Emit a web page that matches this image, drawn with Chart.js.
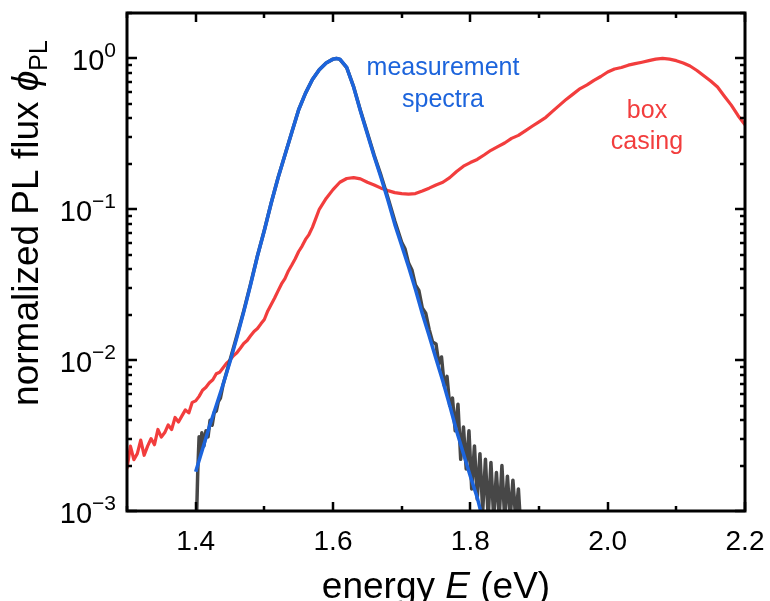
<!DOCTYPE html>
<html>
<head>
<meta charset="utf-8">
<script src="https://cdn.jsdelivr.net/npm/chart.js@4.4.1/dist/chart.umd.min.js"></script>
<style>
  body { margin: 0; background: #fff; }
  canvas { display: block; }
</style>
</head>
<body>
<canvas id="plChart" width="770" height="601"></canvas>
<script>
// fitted emission spectrum (blue)
const energyFit = [1.40, 1.41, 1.42, 1.43, 1.44, 1.45, 1.46, 1.47, 1.48, 1.49, 1.50, 1.51, 1.52, 1.53, 1.54, 1.55, 1.56, 1.57, 1.58, 1.59, 1.60, 1.605,
  1.61, 1.62, 1.63, 1.64, 1.65, 1.66, 1.67, 1.68, 1.69, 1.70, 1.71, 1.72, 1.73, 1.74, 1.75, 1.76, 1.77, 1.78, 1.79, 1.80, 1.81, 1.815];
const fluxFit = [0.00182, 0.00257, 0.00363, 0.00501, 0.00692, 0.00977, 0.0141, 0.0209, 0.0316, 0.0490, 0.0724, 0.110, 0.162, 0.229, 0.324, 0.457, 0.589, 0.724, 0.841, 0.933, 0.989, 1.0,
  0.989, 0.871, 0.646, 0.447, 0.316, 0.224, 0.162, 0.115, 0.0794, 0.0575, 0.0417, 0.0295, 0.0204, 0.0145, 0.0102, 0.00724, 0.00501, 0.00339, 0.00240, 0.00170, 0.00123, 0.00100];

// measured spectrum (grey)
const energyMeas = [1.401, 1.403, 1.405, 1.407, 1.409, 1.412, 1.415, 1.418, 1.421, 1.424, 1.427, 1.430, 1.433, 1.436,
  1.44, 1.45, 1.46, 1.47, 1.48, 1.49, 1.50, 1.51, 1.52, 1.53, 1.54, 1.55, 1.56, 1.57, 1.58, 1.59, 1.60, 1.605,
  1.61, 1.62, 1.63, 1.64, 1.65, 1.66, 1.67, 1.68, 1.69, 1.70, 1.705, 1.71, 1.715, 1.72, 1.725, 1.73, 1.735, 1.74,
  1.745, 1.750, 1.754, 1.758, 1.762, 1.766, 1.770, 1.774, 1.778, 1.782, 1.786, 1.790, 1.794, 1.798, 1.802, 1.806,
  1.810, 1.814, 1.818, 1.822, 1.826, 1.830, 1.834, 1.838, 1.842, 1.846, 1.850, 1.854, 1.858, 1.862, 1.866, 1.870, 1.874];
const fluxMeas = [0.0008, 0.0018, 0.0031, 0.0024, 0.0033, 0.0027, 0.0034, 0.0031, 0.0040, 0.0037, 0.0045, 0.0046, 0.0053, 0.0056,
  0.0069, 0.0100, 0.0145, 0.0212, 0.0320, 0.0492, 0.0726, 0.110, 0.162, 0.229, 0.324, 0.457, 0.589, 0.724, 0.841, 0.933, 0.989, 1.0,
  0.985, 0.868, 0.650, 0.452, 0.322, 0.228, 0.167, 0.119, 0.0835, 0.0605, 0.0545, 0.0440, 0.0395, 0.0315, 0.0290, 0.0222, 0.0205, 0.0160,
  0.0132, 0.0128, 0.0095, 0.0105, 0.0068, 0.0078, 0.0050, 0.0056, 0.0034, 0.0051, 0.0022, 0.0036, 0.0019, 0.0034, 0.0014, 0.0027,
  0.0012, 0.0024, 0.0010, 0.0022, 0.0009, 0.0021, 0.0009, 0.0018, 0.0009, 0.0020, 0.0009, 0.0017, 0.0009, 0.0016, 0.0009, 0.0014, 0.0007];

// box casing emission (red)
const energyBox = [1.300, 1.305, 1.310, 1.315, 1.320, 1.325, 1.330, 1.335, 1.340, 1.345, 1.350, 1.355, 1.360, 1.365, 1.370, 1.375, 1.380, 1.385, 1.390, 1.395,
  1.400, 1.405, 1.410, 1.415, 1.420, 1.425, 1.430, 1.435, 1.440, 1.445, 1.450, 1.455, 1.460, 1.465, 1.470, 1.475, 1.480, 1.485, 1.490, 1.495,
  1.50, 1.505, 1.51, 1.515, 1.52, 1.525, 1.53, 1.535, 1.54, 1.545, 1.55, 1.555, 1.56, 1.565, 1.57, 1.575, 1.58, 1.59, 1.60, 1.61, 1.62, 1.63, 1.64, 1.65, 1.66, 1.67, 1.68, 1.69,
  1.70, 1.71, 1.72, 1.73, 1.74, 1.75, 1.76, 1.77, 1.78, 1.79, 1.80, 1.81, 1.82, 1.83, 1.84, 1.85, 1.86, 1.87, 1.88, 1.89,
  1.90, 1.91, 1.92, 1.93, 1.94, 1.95, 1.96, 1.97, 1.98, 1.99, 2.00, 2.01, 2.02, 2.03, 2.04, 2.05, 2.06, 2.07, 2.08, 2.09,
  2.10, 2.11, 2.12, 2.13, 2.14, 2.15, 2.16, 2.17, 2.18, 2.19, 2.20];
const fluxBox = [0.00191, 0.00269, 0.00219, 0.00240, 0.00295, 0.00234, 0.00269, 0.00302, 0.00275, 0.00347, 0.00309, 0.00331, 0.00372, 0.00347, 0.00417, 0.00389, 0.00427, 0.00468, 0.00447, 0.00525,
  0.00537, 0.00575, 0.00631, 0.00661, 0.00708, 0.00741, 0.00813, 0.00832, 0.00891, 0.00955, 0.0100, 0.0107, 0.0112, 0.0120, 0.0129, 0.0135, 0.0145, 0.0155, 0.0162, 0.0174,
  0.0186, 0.0212, 0.0234, 0.0258, 0.0288, 0.0320, 0.0347, 0.0390, 0.0427, 0.0470, 0.0525, 0.0570, 0.0631, 0.0680, 0.0759, 0.0870, 0.100, 0.118, 0.135, 0.151, 0.160, 0.162, 0.159, 0.151, 0.145, 0.138, 0.133, 0.129,
  0.127, 0.126, 0.127, 0.132, 0.138, 0.145, 0.151, 0.162, 0.178, 0.193, 0.204, 0.214, 0.229, 0.246, 0.260, 0.275, 0.295, 0.309, 0.331, 0.355,
  0.380, 0.407, 0.447, 0.490, 0.537, 0.582, 0.631, 0.668, 0.716, 0.759, 0.813, 0.851, 0.871, 0.902, 0.923, 0.944, 0.966, 0.989, 1.0, 0.989,
  0.966, 0.933, 0.891, 0.832, 0.767, 0.708, 0.646, 0.562, 0.490, 0.417, 0.363];

const xTickValues = [1.3, 1.4, 1.5, 1.6, 1.7, 1.8, 1.9, 2.0, 2.1, 2.2];
const xTickLabels = ['', '1.4', '', '1.6', '', '1.8', '', '2.0', '', '2.2'];
const yDecades = [-3, -2, -1, 0];

const FONT = "'Liberation Sans', Arial, sans-serif";
const BLUE = '#1c64dc';
const RED = '#f23d3d';
const GREY = '#474747';

function toPoints(xs, ys) {
  return xs.map((e, i) => ({ x: e, y: ys[i] }));
}

// frame, inward ticks, tick labels, axis titles and annotations
const axesDecor = {
  id: 'axesDecor',
  afterDatasetsDraw(chart) {
    const { ctx, chartArea: a, scales: { x, y } } = chart;
    ctx.save();
    ctx.strokeStyle = '#000';
    ctx.fillStyle = '#000';
    ctx.lineWidth = 2.5;
    ctx.lineCap = 'butt';

    ctx.beginPath();
    xTickValues.forEach((v, i) => {
      const px = Math.round(x.getPixelForValue(v));
      const len = xTickLabels[i] ? 9 : 5;
      ctx.moveTo(px, a.bottom); ctx.lineTo(px, a.bottom - len);
      ctx.moveTo(px, a.top); ctx.lineTo(px, a.top + len);
    });
    yDecades.forEach(e => {
      for (let m = 1; m <= 9; m++) {
        const v = m * Math.pow(10, e);
        if (v > y.max) break;
        const py = Math.round(y.getPixelForValue(v));
        const len = m === 1 ? 10 : 5;
        ctx.moveTo(a.left, py); ctx.lineTo(a.left + len, py);
        ctx.moveTo(a.right, py); ctx.lineTo(a.right - len, py);
      }
    });
    ctx.stroke();

    ctx.lineWidth = 3;
    ctx.strokeRect(a.left, a.top, a.right - a.left, a.bottom - a.top);

    // x tick labels
    ctx.font = '28px ' + FONT;
    ctx.textAlign = 'center';
    ctx.textBaseline = 'alphabetic';
    xTickValues.forEach((v, i) => {
      if (xTickLabels[i]) ctx.fillText(xTickLabels[i], x.getPixelForValue(v), 550);
    });

    // y tick labels as 10^n
    ctx.textAlign = 'right';
    yDecades.forEach(e => {
      const py = y.getPixelForValue(Math.pow(10, e));
      const sup = e < 0 ? '\u2212' + Math.abs(e) : String(e);
      ctx.font = '21px ' + FONT;
      const w = ctx.measureText(sup).width;
      ctx.fillText(sup, 116, py - 1);
      ctx.font = '29px ' + FONT;
      ctx.fillText('10', 116 - w, py + 12);
    });

    // x axis title
    ctx.textAlign = 'left';
    const parts = [['energy ', ''], ['E', 'italic '], [' (eV)', '']];
    let total = 0;
    parts.forEach(p => { ctx.font = p[1] + '37px ' + FONT; total += ctx.measureText(p[0]).width; });
    let cx = (a.left + a.right) / 2 - total / 2;
    parts.forEach(p => {
      ctx.font = p[1] + '37px ' + FONT;
      ctx.fillText(p[0], cx, 598);
      cx += ctx.measureText(p[0]).width;
    });

    // y axis title, rotated
    ctx.save();
    ctx.translate(38, 223);
    ctx.rotate(-Math.PI / 2);
    const yParts = [['normalized PL flux ', '37px ', 0], ['\u03d5', 'italic 37px ', 0], ['PL', '25px ', 9]];
    let yTotal = 0;
    yParts.forEach(p => { ctx.font = p[1] + FONT; yTotal += ctx.measureText(p[0]).width; });
    let cy = -yTotal / 2;
    yParts.forEach(p => {
      ctx.font = p[1] + FONT;
      ctx.fillText(p[0], cy, p[2]);
      cy += ctx.measureText(p[0]).width;
    });
    ctx.restore();

    // curve annotations
    ctx.textAlign = 'center';
    ctx.textBaseline = 'middle';
    ctx.font = '25px ' + FONT;
    ctx.fillStyle = BLUE;
    ctx.fillText('measurement', 443, 68);
    ctx.fillText('spectra', 443, 100);
    ctx.fillStyle = RED;
    ctx.fillText('box', 647, 111);
    ctx.fillText('casing', 647, 142);
    ctx.restore();
  }
};

new Chart(document.getElementById('plChart'), {
  type: 'line',
  data: {
    datasets: [
      { label: 'fit', data: toPoints(energyFit, fluxFit), borderColor: BLUE, borderWidth: 3.5, order: 0 },
      { label: 'measurement', data: toPoints(energyMeas, fluxMeas), borderColor: GREY, borderWidth: 3.5, order: 1 },
      { label: 'box casing', data: toPoints(energyBox, fluxBox), borderColor: RED, borderWidth: 3.2, order: 2 }
    ]
  },
  options: {
    responsive: false,
    animation: false,
    elements: { point: { radius: 0 }, line: { tension: 0, borderJoinStyle: 'round' } },
    layout: { padding: { top: 13, right: 25, left: 0, bottom: 0 } },
    plugins: { legend: { display: false }, tooltip: { enabled: false } },
    scales: {
      x: {
        type: 'linear', min: 1.3, max: 2.2,
        grid: { display: false }, border: { display: false }, ticks: { display: false },
        afterFit: s => { s.height = 90; }
      },
      y: {
        type: 'logarithmic', min: 0.001, max: 2,
        grid: { display: false }, border: { display: false }, ticks: { display: false },
        afterFit: s => { s.width = 127; }
      }
    }
  },
  plugins: [axesDecor]
});
</script>
</body>
</html>
